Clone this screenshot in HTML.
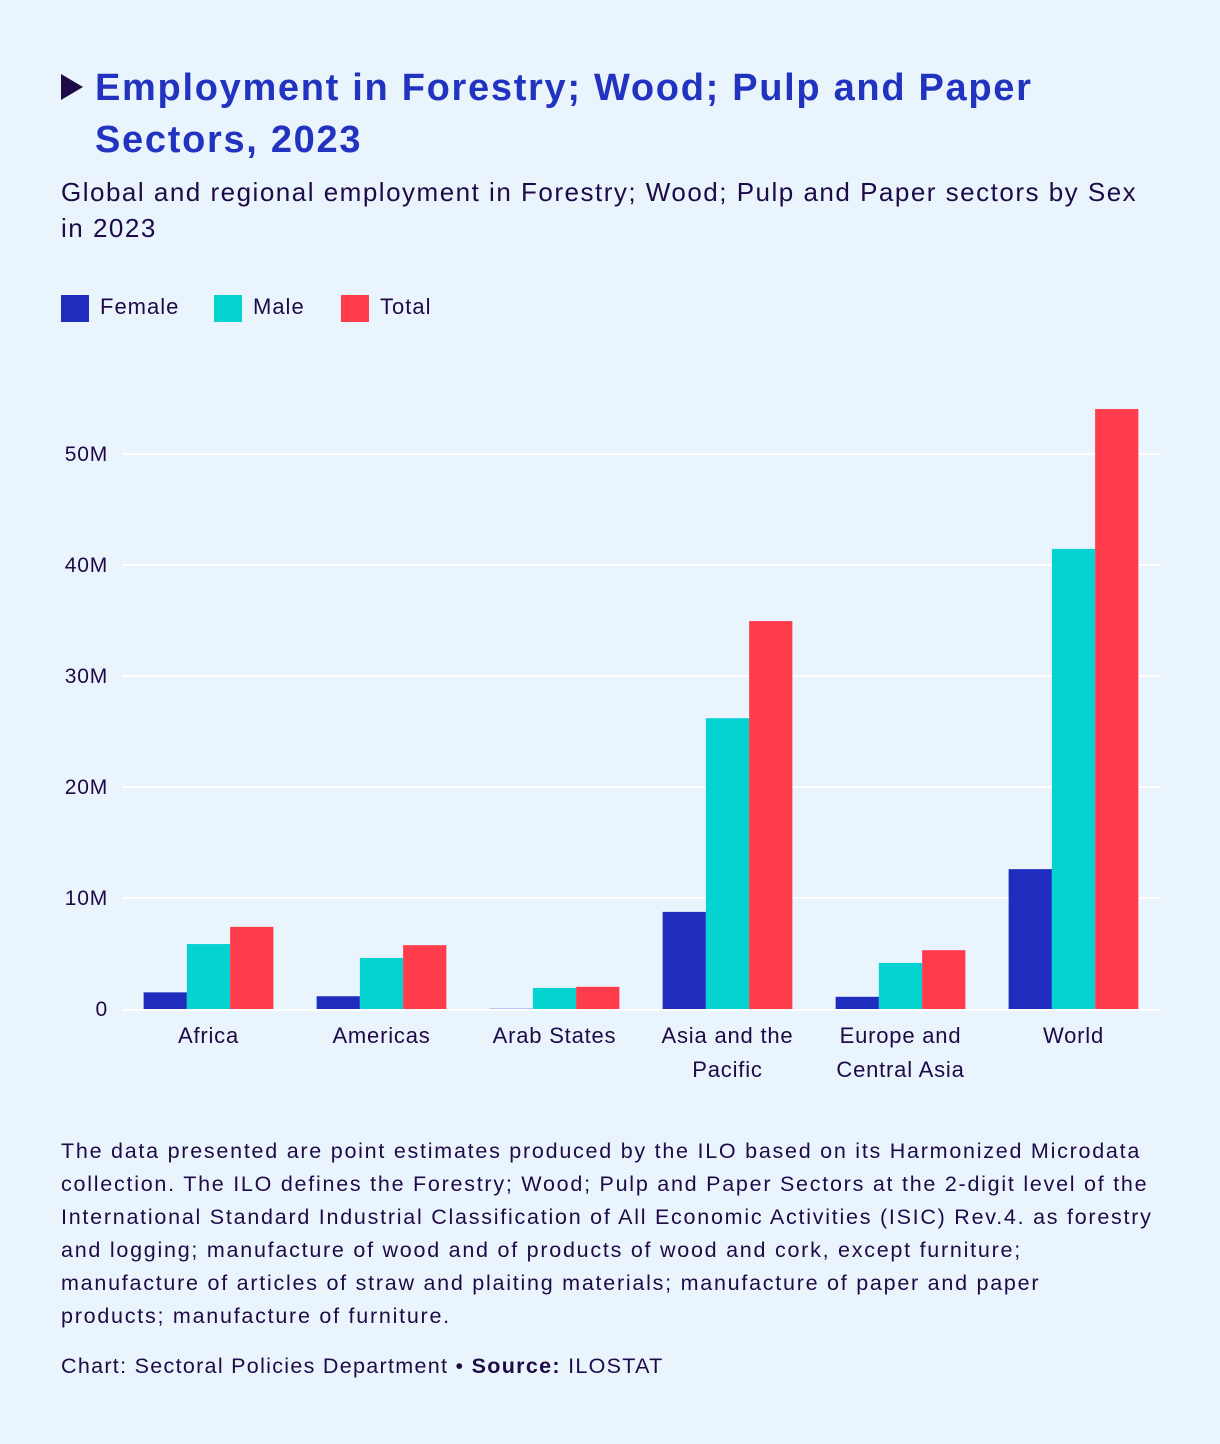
<!DOCTYPE html>
<html><head><meta charset="utf-8">
<style>
html,body{margin:0;padding:0;}
body{width:1220px;height:1444px;background:#eaf4fd;font-family:"Liberation Sans",sans-serif;color:#1e0a46;position:relative;overflow:hidden;}
#title{position:absolute;left:95px;top:62px;white-space:nowrap;font-size:38px;line-height:52px;font-weight:bold;color:#2233c0;letter-spacing:1.7px;}
#tri{position:absolute;left:61px;top:74px;width:0;height:0;border-top:13px solid transparent;border-bottom:13px solid transparent;border-left:22px solid #1e0a46;}
#subtitle{position:absolute;left:61px;top:174px;white-space:nowrap;font-size:26px;line-height:36px;letter-spacing:1.5px;}
.leg{position:absolute;top:293px;font-size:22px;line-height:28px;letter-spacing:1px;}
.sw{position:absolute;top:295px;width:28px;height:27px;}
#note{position:absolute;left:61px;top:1135px;white-space:nowrap;font-size:21.5px;line-height:33px;letter-spacing:1.75px;}
#credit{position:absolute;left:61px;top:1350px;font-size:21.5px;line-height:33px;letter-spacing:1.3px;}
</style></head><body>
<div id="tri"></div>
<div id="title">Employment in Forestry; Wood; Pulp and Paper<br>Sectors, 2023</div>
<div id="subtitle">Global and regional employment in Forestry; Wood; Pulp and Paper sectors by Sex<br>in 2023</div>
<div class="sw" style="left:61px;background:#1f2dbf"></div>
<div class="leg" style="left:100px">Female</div>
<div class="sw" style="left:214px;background:#05d3d2"></div>
<div class="sw" style="left:341px;background:#fe3c4c"></div>
<div class="leg" style="left:253px">Male</div>
<div class="leg" style="left:380px">Total</div>
<svg id="chart" width="1220" height="1444" style="position:absolute;left:0;top:0"></svg>
<div id="note">The data presented are point estimates produced by the ILO based on its Harmonized Microdata<br>collection. The ILO defines the Forestry; Wood; Pulp and Paper Sectors at the 2-digit level of the<br>International Standard Industrial Classification of All Economic Activities (ISIC) Rev.4. as forestry<br>and logging; manufacture of wood and of products of wood and cork, except furniture;<br>manufacture of articles of straw and plaiting materials; manufacture of paper and paper<br>products; manufacture of furniture.</div>
<div id="credit">Chart: Sectoral Policies Department • <b>Source:</b> ILOSTAT</div>
<script>
const categories=[["Africa"],["Americas"],["Arab States"],["Asia and the","Pacific"],["Europe and","Central Asia"],["World"]];
const female=[1.5,1.15,0.02,8.75,1.1,12.6];
const male=[5.85,4.6,1.9,26.2,4.15,41.45];
const total=[7.4,5.75,2.0,34.95,5.3,54.05];
const ticks=[0,10,20,30,40,50];
const tickLabels=["0","10M","20M","30M","40M","50M"];
const svg=document.getElementById('chart');
const NS='http://www.w3.org/2000/svg';
const x0=122,x1=1160,y0=1009,pxPerM=11.1;
const band=(x1-x0)/categories.length;
const y=v=>y0-v*pxPerM;
function mk(t,a){const e=document.createElementNS(NS,t);for(const k in a)e.setAttribute(k,a[k]);svg.appendChild(e);return e;}
ticks.forEach((t,i)=>{
 if(t>0){const g=mk('line',{x1:x0,x2:x1,y1:y(t),y2:y(t),stroke:'#ffffff','stroke-width':2});
 
 }
 const l=mk('text',{x:108,y:y(t)+7,'text-anchor':'end','font-size':21,'letter-spacing':0.8,fill:'#1e0a46','font-family':'Liberation Sans, sans-serif'});
 l.textContent=tickLabels[i];
 
 
});
const series=[[female,'#1f2dbf','female'],[male,'#05d3d2','male'],[total,'#fe3c4c','total']];
const bw=band*0.25,pad=band*0.125;
categories.forEach((c,i)=>{
 series.forEach((s,j)=>{
  const v=s[0][i];
  const r=mk('rect',{x:x0+i*band+pad+j*bw,y:y(v),width:bw,height:v*pxPerM,fill:s[1]});
  
  
 });
 c.forEach((ln,k)=>{
  const t=mk('text',{x:x0+(i+0.5)*band,y:1043+k*34,'text-anchor':'middle','font-size':22,'letter-spacing':0.8,fill:'#1e0a46','font-family':'Liberation Sans, sans-serif'});
  t.textContent=ln;
  
  
 });
});
const ax=mk('line',{x1:x0,x2:x1,y1:y0+1,y2:y0+1,stroke:'#ffffff','stroke-width':2});


</script>
</body></html>
